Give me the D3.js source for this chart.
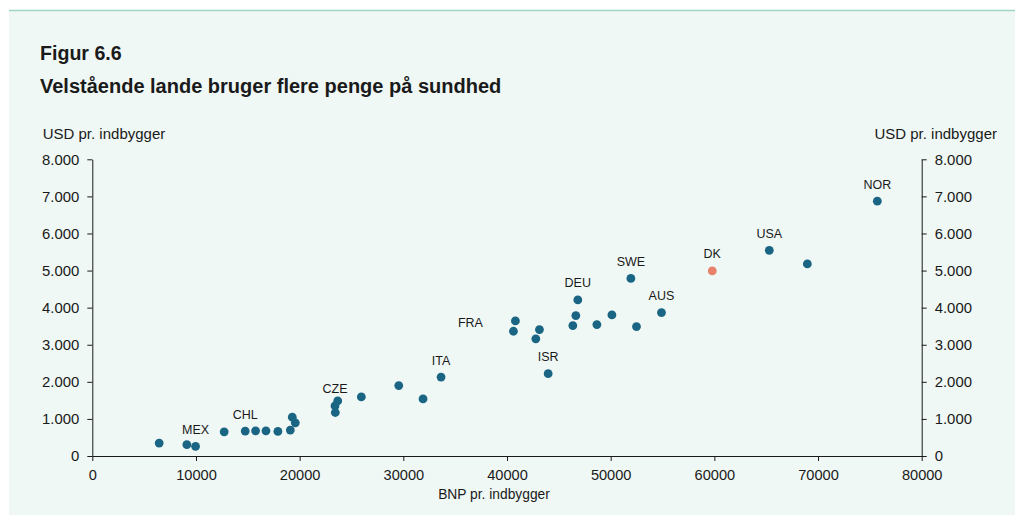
<!DOCTYPE html>
<html>
<head>
<meta charset="utf-8">
<script src="https://cdn.jsdelivr.net/npm/d3@7"></script>
<style>
  html, body { margin: 0; padding: 0; background: #ffffff; }
  svg { display: block; }
  text { font-family: "Liberation Sans", Arial, Helvetica, sans-serif; fill: #1a1a1a; }
</style>
</head>
<body>
<svg id="chart" width="1015" height="515"></svg>
<script>
// ---- Data ----
const gdpPerCapita = [6450, 9120, 9960, 12720, 14750, 15750, 16750, 17900, 19100, 19290, 19580,
  23410, 23670, 23440, 25950, 29560, 31900, 33640, 40810, 40620, 43130, 42780, 43970,
  46830, 46640, 46350, 48670, 50120, 51950, 52490, 54900, 59800, 65300, 68970, 75720];
const healthPerCapita = [349, 305, 260, 652, 671, 679, 679, 663, 698, 1047, 894,
  1350, 1485, 1173, 1592, 1898, 1538, 2129, 3643, 3364, 3409, 3160, 2220,
  4207, 3785, 3517, 3544, 3804, 4787, 3490, 3866, 4990, 5545, 5180, 6870];
const countryLabels = ["", "", "MEX", "", "CHL", "", "", "", "", "", "",
  "CZE", "", "", "", "", "", "ITA", "", "FRA", "", "", "ISR",
  "DEU", "", "", "", "", "SWE", "", "AUS", "DK", "USA", "", "NOR"];
const xTicks = [0, 10000, 20000, 30000, 40000, 50000, 60000, 70000, 80000];
const yTicks = [0, 1000, 2000, 3000, 4000, 5000, 6000, 7000, 8000];
const titleLines = ["Figur 6.6", "Velstående lande bruger flere penge på sundhed"];
const yAxisTitle = "USD pr. indbygger";
const xAxisTitle = "BNP pr. indbygger";
const highlightCountry = "DK";
const leftPlacedLabels = ["FRA"];

// ---- Layout ----
const svg = d3.select("#chart");
const W = 1015, H = 515;
const plot = { left: 92.3, right: 921.7, top: 159.3, bottom: 456 };
const colors = { bg: "#eff8f5", topLine: "#9fd6c1", dot: "#1b6584", dk: "#e8806b", axis: "#1a1a1a" };

svg.append("rect").attr("x", 9).attr("y", 10).attr("width", W - 9).attr("height", H - 10).attr("fill", colors.bg);
svg.append("line").attr("x1", 9).attr("x2", W).attr("y1", 10.5).attr("y2", 10.5)
  .attr("stroke", colors.topLine).attr("stroke-width", 1.5);

// Titles
svg.append("text").attr("x", 40).attr("y", 60).style("font-size", "19.6px").style("font-weight", "bold").text(titleLines[0]);
svg.append("text").attr("x", 40).attr("y", 93).style("font-size", "20px").style("font-weight", "bold").text(titleLines[1]);

const x = d3.scaleLinear().domain([0, 80000]).range([plot.left, plot.right]);
const y = d3.scaleLinear().domain([0, 8000]).range([plot.bottom, plot.top]);

const dk = d3.formatLocale({ decimal: ",", thousands: ".", grouping: [3], currency: ["", ""] });
const yFmt = dk.format(",");

function styleAxis(g, size) {
  g.select(".domain").attr("stroke", colors.axis);
  g.selectAll(".tick line").attr("stroke", colors.axis);
  g.selectAll(".tick text").style("font-size", size).attr("fill", colors.axis);
}

const gx = svg.append("g").attr("transform", `translate(0,${plot.bottom})`)
  .call(d3.axisBottom(x).tickValues(xTicks).tickFormat(d3.format("d")).tickSize(5).tickSizeOuter(0).tickPadding(9));
gx.attr("font-family", null).attr("font-size", null);
styleAxis(gx, "14.6px");

const gyl = svg.append("g").attr("transform", `translate(${plot.left},0)`)
  .call(d3.axisLeft(y).tickValues(yTicks).tickFormat(yFmt).tickSize(5).tickSizeOuter(0).tickPadding(8));
gyl.attr("font-family", null).attr("font-size", null);
styleAxis(gyl, "14.9px");

const gyr = svg.append("g").attr("transform", `translate(${plot.right},0)`)
  .call(d3.axisRight(y).tickValues(yTicks).tickFormat(yFmt).tickSize(5).tickSizeOuter(0).tickPadding(8));
gyr.attr("font-family", null).attr("font-size", null);
styleAxis(gyr, "14.9px");

// Axis titles
svg.append("text").attr("x", 42.7).attr("y", 139).style("font-size", "15px").text(yAxisTitle);
svg.append("text").attr("x", 997).attr("y", 139).attr("text-anchor", "end").style("font-size", "15px").text(yAxisTitle);
svg.append("text").attr("x", 494).attr("y", 499).attr("text-anchor", "middle").style("font-size", "13.8px").text(xAxisTitle);

// Points
const points = gdpPerCapita.map((g, i) => ({ gdp: g, health: healthPerCapita[i], label: countryLabels[i] }));

svg.append("g").selectAll("circle").data(points).join("circle")
  .attr("cx", d => x(d.gdp)).attr("cy", d => y(d.health)).attr("r", 4.4)
  .attr("fill", d => d.label === highlightCountry ? colors.dk : colors.dot);

// Labels
svg.append("g").selectAll("text").data(points.filter(d => d.label)).join("text")
  .attr("x", d => leftPlacedLabels.includes(d.label) ? x(d.gdp) - 30.5 : x(d.gdp))
  .attr("y", d => leftPlacedLabels.includes(d.label) ? y(d.health) - 4.5 : y(d.health) - 12.5)
  .attr("text-anchor", d => leftPlacedLabels.includes(d.label) ? "end" : "middle")
  .style("font-size", "12.5px")
  .text(d => d.label);
</script>
</body>
</html>
